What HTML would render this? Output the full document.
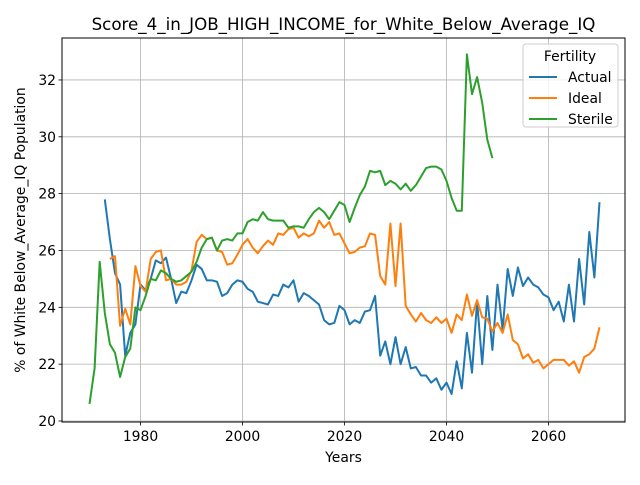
<!DOCTYPE html>
<html><head><meta charset="utf-8">
<style>body{margin:0;background:#fff}svg{font-family:"DejaVu Sans","Liberation Sans",sans-serif}</style>
</head><body>
<svg id="chart" width="640" height="480"></svg>
<script>
const startActual = 1973;
const actualVals = [27.8,26.4,25.2,24.8,22.3,23.1,23.4,24.8,24.6,25.0,25.65,25.55,25.75,25.0,24.15,24.55,24.5,24.95,25.5,25.35,24.95,24.95,24.9,24.4,24.5,24.8,24.95,24.9,24.65,24.55,24.2,24.15,24.1,24.45,24.4,24.8,24.7,24.95,24.2,24.5,24.4,24.25,24.1,23.55,23.4,23.45,24.05,23.9,23.4,23.55,23.45,23.85,23.9,24.4,22.3,22.8,22.0,22.95,22.0,22.6,21.85,21.9,21.6,21.6,21.35,21.5,21.1,21.35,20.95,22.1,21.15,23.1,21.7,24.2,22.0,24.4,22.5,24.8,23.2,25.35,24.4,25.4,24.75,25.05,24.8,24.7,24.45,24.35,23.9,24.2,23.5,24.8,23.5,25.7,24.1,26.65,25.05,27.7];
const startIdeal = 1974;
const idealVals = [25.7,25.8,23.35,23.95,23.4,25.45,24.75,24.55,25.7,25.95,26.0,24.95,25.0,24.8,24.8,24.9,25.3,26.3,26.55,26.4,26.45,26.0,25.95,25.5,25.55,25.85,26.2,26.4,26.1,25.9,26.15,26.35,26.2,26.6,26.55,26.75,26.8,26.45,26.6,26.5,26.6,27.05,26.8,27.0,26.55,26.6,26.25,25.9,25.95,26.1,26.15,26.6,26.55,25.1,24.8,26.95,24.75,26.95,24.05,23.75,23.5,23.8,23.55,23.45,23.65,23.45,23.6,23.1,23.75,23.55,24.45,23.7,24.25,23.65,23.6,23.15,23.45,23.1,23.75,22.85,22.7,22.2,22.35,22.05,22.15,21.85,22.0,22.15,22.15,22.15,21.95,22.1,21.7,22.25,22.35,22.55,23.3];
const startSterile = 1970;
const sterileVals = [20.6,21.85,25.6,23.8,22.7,22.4,21.55,22.25,22.55,24.0,23.9,24.4,25.0,24.95,25.3,25.2,25.0,24.9,24.95,25.1,25.25,25.6,26.1,26.4,26.45,26.0,26.35,26.4,26.35,26.6,26.6,27.0,27.1,27.05,27.35,27.1,27.05,27.05,27.05,26.8,26.85,26.85,26.8,27.1,27.35,27.5,27.35,27.1,27.4,27.7,27.6,27.0,27.5,27.95,28.25,28.8,28.75,28.8,28.3,28.45,28.35,28.15,28.35,28.1,28.3,28.6,28.9,28.95,28.95,28.85,28.45,27.85,27.4,27.4,32.9,31.5,32.1,31.2,29.9,29.25];
const xTicks = [1980,2000,2020,2040,2060];
const yTicks = [20,22,24,26,28,30,32];

const NS="http://www.w3.org/2000/svg";
const svg=document.getElementById('chart');
const L=62,R=625,T=38,B=422;
const xs=y=>89.5+(y-1970)*5.1;
const ys=v=>421-(v-20)*28.42;
function mk(tag,attrs,parent){const e=document.createElementNS(NS,tag);for(const k in attrs)e.setAttribute(k,attrs[k]);(parent||svg).appendChild(e);return e;}

const grid=mk('g',{});


xTicks.forEach(t=>{
  const ln=mk('line',{x1:xs(t),x2:xs(t),y1:T,y2:B,stroke:'#b0b0b0','stroke-width':0.8},grid);
  
  
  mk('line',{x1:xs(t),x2:xs(t),y1:B,y2:B+3.5,stroke:'#000','stroke-width':0.8});
  const tx=mk('text',{x:xs(t),y:B+19,'font-size':13.9,'text-anchor':'middle',fill:'#000'});
  tx.textContent=t;
  
  
});
yTicks.forEach(t=>{
  const ln=mk('line',{x1:L,x2:R,y1:ys(t),y2:ys(t),stroke:'#b0b0b0','stroke-width':0.8},grid);
  
  
  mk('line',{x1:L-3.5,x2:L,y1:ys(t),y2:ys(t),stroke:'#000','stroke-width':0.8});
  const tx=mk('text',{x:L-6,y:ys(t)+5,'font-size':13.9,'text-anchor':'end',fill:'#000'});
  tx.textContent=t;
  
  
});

function series(start,vals,color,name){
  const p=vals.map((v,i)=>xs(start+i).toFixed(2)+','+ys(v).toFixed(2)).join(' ');
  const pl=mk('polyline',{points:p,fill:'none',stroke:color,'stroke-width':2,'stroke-linejoin':'round'});
  
  
}
series(startActual,actualVals,'#1f77b4','actual-line');
series(startIdeal,idealVals,'#ff7f0e','ideal-line');
series(startSterile,sterileVals,'#2ca02c','sterile-line');

const frame=mk('rect',{x:L,y:T,width:R-L,height:B-T,fill:'none',stroke:'#000','stroke-width':1});



const title=mk('text',{x:(L+R)/2,y:30,'font-size':16.7,'text-anchor':'middle'});
title.textContent='Score_4_in_JOB_HIGH_INCOME_for_White_Below_Average_IQ';


const xl=mk('text',{x:(L+R)/2,y:462,'font-size':13.9,'text-anchor':'middle'});
xl.textContent='Years';


const yl=mk('text',{x:0,y:0,'font-size':13.9,'text-anchor':'middle',transform:'translate(25,230) rotate(-90)'});
yl.textContent='% of White Below_Average_IQ Population';



const lg=mk('g',{});


mk('rect',{x:523,y:44,width:95,height:83,rx:3,fill:'#fff','fill-opacity':0.8,stroke:'#ccc','stroke-width':1},lg);
const lt=mk('text',{x:570,y:61,'font-size':13.9,'text-anchor':'middle'},lg);
lt.textContent='Fertility';


[['Actual','#1f77b4'],['Ideal','#ff7f0e'],['Sterile','#2ca02c']].forEach((d,i)=>{
  const y=77+i*21;
  const g=mk('g',{},lg);
  
  
  mk('line',{x1:529,x2:557,y1:y,y2:y,stroke:d[1],'stroke-width':2},g);
  const t=mk('text',{x:568,y:y+5,'font-size':13.9},g);
  t.textContent=d[0];
});
</script>
</body></html>
